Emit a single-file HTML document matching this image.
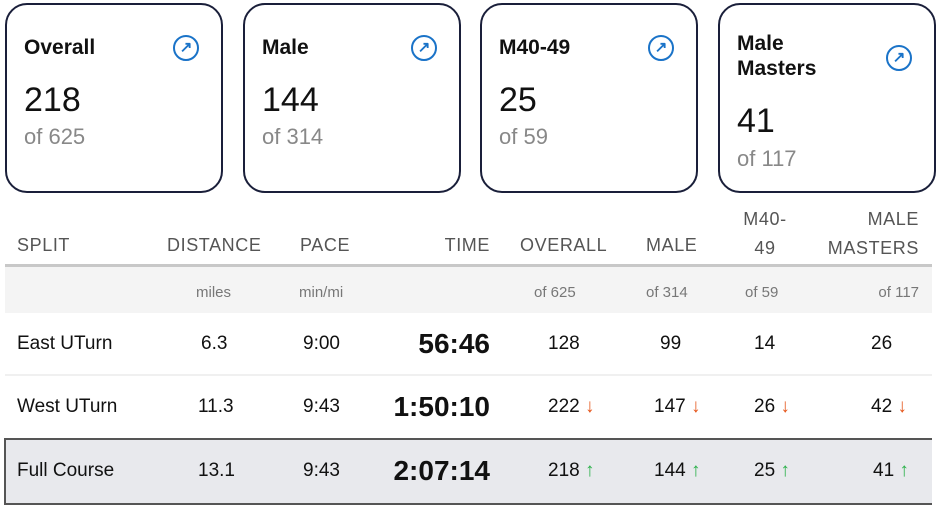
<!DOCTYPE html>
<html><head><style>
body{margin:0;width:942px;height:504px;background:#fff;font-family:"Liberation Sans",sans-serif;position:relative;overflow:hidden;color:#111}
.card{position:absolute;top:3px;width:214px;height:186px;border:2px solid #1a1f3a;border-radius:22px;box-sizing:content-box}
.card .t{position:absolute;left:17px;top:30px;font-size:21px;font-weight:bold;line-height:25px}
.card .n{position:absolute;left:17px;top:77px;font-size:34px;line-height:36px}
.card .o{position:absolute;left:17px;top:119px;font-size:22px;color:#888}
.ic{position:absolute;right:22px;top:30px;width:22px;height:22px;border:2px solid #1a73c8;border-radius:50%;color:#1a73c8;font-size:15px;line-height:22px;text-align:center;font-weight:bold}
.a{position:absolute;white-space:nowrap}
.h{font-size:18px;color:#555;letter-spacing:0.6px}
.u{font-size:15px;color:#777}
.v{font-size:19px;color:#111}
.tm{font-size:28px;font-weight:bold}
.dn{color:#e5561b}.up{color:#2bb14a}
</style></head><body>
<div class="card" style="left:5px"><div class="t">Overall</div><div class="ic">↗</div><div class="n">218</div><div class="o">of 625</div></div>
<div class="card" style="left:243px"><div class="t">Male</div><div class="ic">↗</div><div class="n">144</div><div class="o">of 314</div></div>
<div class="card" style="left:480px"><div class="t">M40-49</div><div class="ic">↗</div><div class="n">25</div><div class="o">of 59</div></div>
<div class="card" style="left:718px"><div class="t" style="top:26px">Male<br>Masters</div><div class="ic" style="top:40px">↗</div><div class="n" style="top:98px">41</div><div class="o" style="top:141px">of 117</div></div>

<div class="a" style="left:5px;top:264px;width:927px;height:3px;background:#c8c8c8"></div>
<div class="a" style="left:5px;top:267px;width:927px;height:46px;background:#f4f4f4"></div>
<div class="a" style="left:5px;top:374px;width:927px;height:2px;background:#f0f0f0"></div>
<div class="a" style="left:4px;top:438px;width:926px;height:63px;background:#e8e9ed;border:2px solid #555;border-right:none"></div>

<div class="a h" style="left:17px;top:235px">SPLIT</div>
<div class="a h" style="left:167px;top:235px">DISTANCE</div>
<div class="a h" style="left:300px;top:235px">PACE</div>
<div class="a h" style="right:452px;top:235px">TIME</div>
<div class="a h" style="left:520px;top:235px">OVERALL</div>
<div class="a h" style="left:646px;top:235px">MALE</div>
<div class="a h" style="left:730px;top:205px;text-align:center;width:70px;line-height:29px">M40-<br>49</div>
<div class="a h" style="right:23px;top:205px;text-align:right;line-height:29px">MALE<br>MASTERS</div>

<div class="a u" style="left:196px;top:284px">miles</div>
<div class="a u" style="left:299px;top:284px">min/mi</div>
<div class="a u" style="left:534px;top:284px">of 625</div>
<div class="a u" style="left:646px;top:284px">of 314</div>
<div class="a u" style="left:745px;top:284px">of 59</div>
<div class="a u" style="right:23px;top:284px">of 117</div>

<div class="a v" style="left:17px;top:333px">East UTurn</div>
<div class="a v" style="left:201px;top:333px">6.3</div>
<div class="a v" style="left:303px;top:333px">9:00</div>
<div class="a tm" style="right:452px;top:328px">56:46</div>
<div class="a v" style="left:548px;top:333px">128</div>
<div class="a v" style="left:660px;top:333px">99</div>
<div class="a v" style="left:754px;top:333px">14</div>
<div class="a v" style="left:871px;top:333px">26</div>

<div class="a v" style="left:17px;top:396px">West UTurn</div>
<div class="a v" style="left:198px;top:396px">11.3</div>
<div class="a v" style="left:303px;top:396px">9:43</div>
<div class="a tm" style="right:452px;top:391px">1:50:10</div>
<div class="a v" style="left:548px;top:396px">222 <span class="dn">↓</span></div>
<div class="a v" style="left:654px;top:396px">147 <span class="dn">↓</span></div>
<div class="a v" style="left:754px;top:396px">26 <span class="dn">↓</span></div>
<div class="a v" style="left:871px;top:396px">42 <span class="dn">↓</span></div>

<div class="a v" style="left:17px;top:460px">Full Course</div>
<div class="a v" style="left:198px;top:460px">13.1</div>
<div class="a v" style="left:303px;top:460px">9:43</div>
<div class="a tm" style="right:452px;top:455px">2:07:14</div>
<div class="a v" style="left:548px;top:460px">218 <span class="up">↑</span></div>
<div class="a v" style="left:654px;top:460px">144 <span class="up">↑</span></div>
<div class="a v" style="left:754px;top:460px">25 <span class="up">↑</span></div>
<div class="a v" style="left:873px;top:460px">41 <span class="up">↑</span></div>
</body></html>
